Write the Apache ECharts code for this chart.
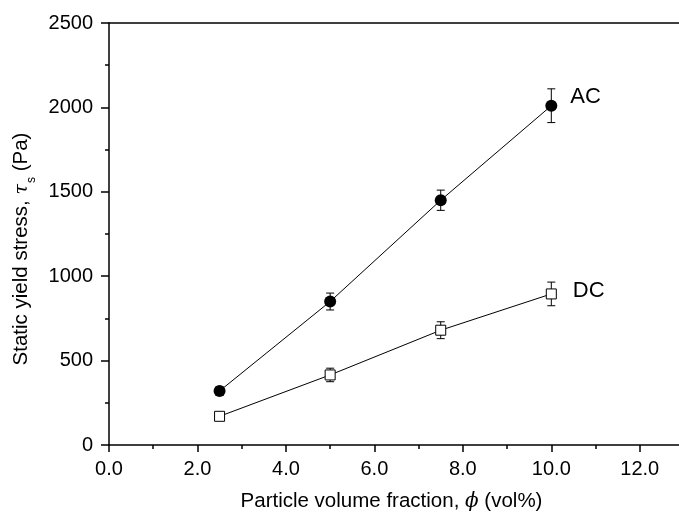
<!DOCTYPE html>
<html>
<head>
<meta charset="utf-8">
<script src="https://cdn.jsdelivr.net/npm/echarts@6/dist/echarts.min.js"></script>
<style>
  html, body { margin: 0; padding: 0; background: #fff; overflow: hidden; }
  #chart { width: 690px; height: 517px; }
</style>
</head>
<body>
<div id="chart"></div>
<script>
// Particle volume fraction (vol%)
const phi = [2.5, 5.0, 7.5, 10.0];
// Static yield stress (Pa) and its error for the AC and DC fields
const acStress = [320, 850, 1450, 2010];
const acError = [25, 50, 60, 100];
const dcStress = [170, 415, 680, 895];
const dcError = [20, 40, 50, 70];
const seriesNames = ['AC', 'DC'];

const FONT = '"Liberation Sans", Arial, sans-serif';

function points(ys) {
  return phi.map((x, i) => [x, ys[i]]);
}
function errorRows(ys, errs) {
  return phi.map((x, i) => [x, ys[i] - errs[i], ys[i] + errs[i]]);
}

function renderErrorBar(params, api) {
  const x = api.value(0);
  const lo = api.coord([x, api.value(1)]);
  const hi = api.coord([x, api.value(2)]);
  const half = 4;
  const style = { stroke: '#000', lineWidth: 1, fill: null };
  return {
    type: 'group',
    children: [
      { type: 'line', shape: { x1: lo[0], y1: lo[1], x2: hi[0], y2: hi[1] }, style },
      { type: 'line', shape: { x1: lo[0] - half, y1: lo[1], x2: lo[0] + half, y2: lo[1] }, style },
      { type: 'line', shape: { x1: hi[0] - half, y1: hi[1], x2: hi[0] + half, y2: hi[1] }, style }
    ]
  };
}

function endLabel(name, dx, dy) {
  return {
    show: true,
    position: 'right',
    distance: dx,
    offset: [0, dy],
    formatter: (p) => (p.dataIndex === phi.length - 1 ? name : ''),
    color: '#000',
    fontFamily: FONT,
    fontSize: 22
  };
}

const chart = echarts.init(document.getElementById('chart'), null, { renderer: 'canvas' });

chart.setOption({
  animation: false,
  backgroundColor: '#fff',
  grid: { left: 109, right: 6, top: 23, bottom: 72, containLabel: false },
  xAxis: [
    {
      type: 'value',
      min: 0,
      max: 13,
      interval: 2,
      position: 'bottom',
      name: 'Particle volume fraction, {i|ϕ} (vol%)',
      nameLocation: 'middle',
      nameGap: 46,
      nameTextStyle: {
        color: '#000', fontFamily: FONT, fontSize: 20.5,
        padding: [0, 0, 0, -10],
        rich: { i: { fontFamily: '"DejaVu Serif", serif', fontStyle: 'italic', fontSize: 20, color: '#000' } }
      },
      axisLine: { show: true, onZero: false, lineStyle: { color: '#000', width: 1.5 } },
      axisTick: { show: true, inside: false, length: 7, lineStyle: { color: '#000', width: 1.5 } },
      minorTick: { show: true, splitNumber: 2, length: 4, lineStyle: { color: '#000', width: 1.5 } },
      axisLabel: {
        color: '#000', fontFamily: FONT, fontSize: 20, margin: 14,
        formatter: (v) => (v > 12.01 ? '' : v.toFixed(1))
      },
      splitLine: { show: false }
    },
    {
      type: 'value',
      min: 0,
      max: 13,
      position: 'top',
      axisLine: { show: true, onZero: false, lineStyle: { color: '#000', width: 1.5 } },
      axisTick: { show: false },
      axisLabel: { show: false },
      splitLine: { show: false }
    }
  ],
  yAxis: {
    type: 'value',
    min: 0,
    max: 2500,
    interval: 500,
    name: '{n|Static yield stress, }{i|τ}{s|s}{n| (Pa)}',
    nameLocation: 'middle',
    nameRotate: 90,
    nameGap: 69,
    nameTextStyle: {
      color: '#000',
      padding: [0, 30, 0, 0],
      rich: {
        n: { fontFamily: FONT, fontSize: 20.5, color: '#000', lineHeight: 24, verticalAlign: 'middle' },
        i: { fontFamily: '"DejaVu Serif", serif', fontStyle: 'italic', fontSize: 19, color: '#000', lineHeight: 24, verticalAlign: 'middle' },
        s: { fontFamily: FONT, fontSize: 12, color: '#000', lineHeight: 24, verticalAlign: 'bottom', padding: [0, 0, -4, 1] }
      }
    },
    axisLine: { show: true, onZero: false, lineStyle: { color: '#000', width: 1.5 } },
    axisTick: { show: true, inside: false, length: 8, lineStyle: { color: '#000', width: 1.5 } },
    minorTick: { show: true, splitNumber: 2, length: 4, lineStyle: { color: '#000', width: 1.5 } },
    axisLabel: { color: '#000', fontFamily: FONT, fontSize: 20, margin: 16, formatter: (v) => String(v) },
    splitLine: { show: false }
  },
  series: [
    {
      name: seriesNames[0] + ' error',
      type: 'custom',
      renderItem: renderErrorBar,
      data: errorRows(acStress, acError),
      encode: { x: 0, y: [1, 2] },
      z: 2
    },
    {
      name: seriesNames[1] + ' error',
      type: 'custom',
      renderItem: renderErrorBar,
      data: errorRows(dcStress, dcError),
      encode: { x: 0, y: [1, 2] },
      z: 2
    },
    {
      name: seriesNames[0],
      type: 'line',
      data: points(acStress),
      symbol: 'circle',
      symbolSize: 12,
      lineStyle: { color: '#000', width: 1 },
      itemStyle: { color: '#000', borderColor: '#000', borderWidth: 0 },
      label: endLabel(seriesNames[0], 13, -9),
      z: 3
    },
    {
      name: seriesNames[1],
      type: 'line',
      data: points(dcStress),
      symbol: 'rect',
      symbolSize: 10,
      lineStyle: { color: '#000', width: 1 },
      itemStyle: { color: '#fff', borderColor: '#000', borderWidth: 1 },
      label: endLabel(seriesNames[1], 16, -3),
      z: 3
    }
  ]
});
</script>
</body>
</html>
